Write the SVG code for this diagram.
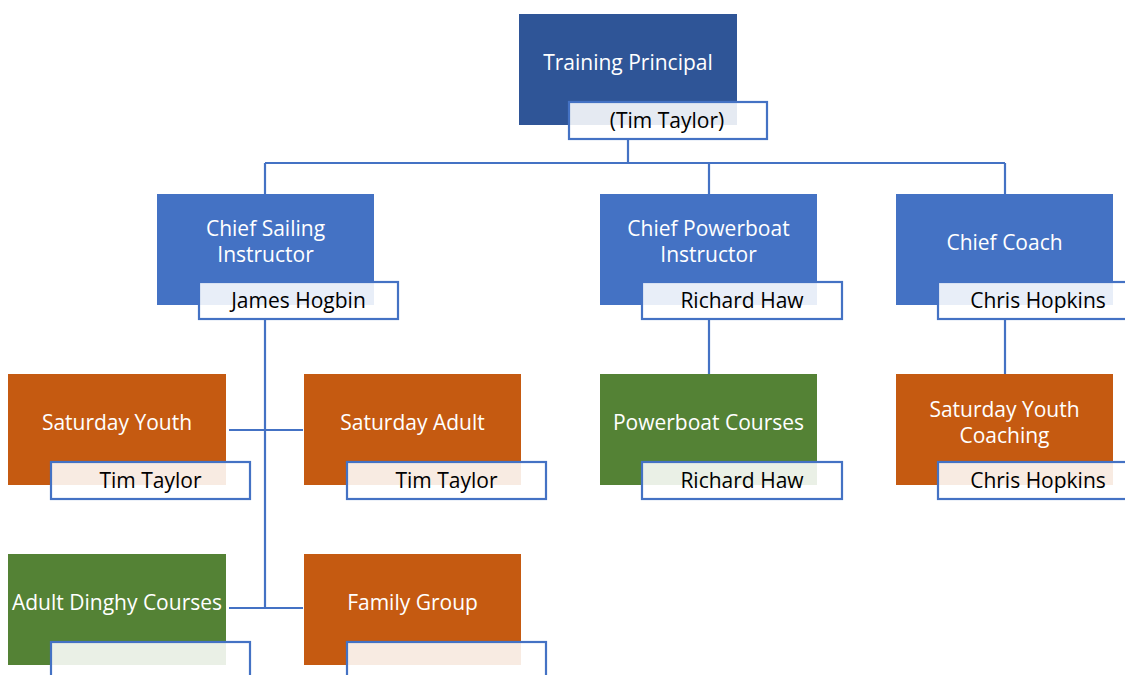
<svg xmlns="http://www.w3.org/2000/svg" width="1125" height="675" viewBox="0 0 1125 675">
<style>
.box{stroke:none}
.dark{fill:#2F5597}
.blue{fill:#4472C4}
.orange{fill:#C55A11}
.green{fill:#548235}
.lbl{fill:#ffffff;fill-opacity:0.88;stroke:#4472C4;stroke-width:2.2}
.t{font-family:"Open Sans","Liberation Sans",sans-serif;font-size:21px;fill:#ffffff;text-anchor:middle;dominant-baseline:central}
.n{font-family:"Open Sans","Liberation Sans",sans-serif;font-size:21px;fill:#000000;text-anchor:middle;dominant-baseline:central}
.c{fill:none;stroke:#4472C4;stroke-width:2.2}
</style>
<rect width="1125" height="675" fill="#ffffff"/>
<g id="connectors">
<path class="c" d="M628 139V163M265 163H1005M265 163V194M709 163V194M1005 163V194"/>
<path class="c" d="M265 319V608M229 430H303M229 608H303"/>
<path class="c" d="M709 319V374M1005 319V374"/>
</g>
<g id="training-principal">
<rect class="box dark" x="519" y="14" width="218" height="111"/>
<text class="t" x="628" y="62">Training Principal</text>
<rect class="lbl" x="569" y="102" width="198" height="37"/>
<text class="n" x="667" y="120">(Tim Taylor)</text>
</g>
<g id="chief-sailing">
<rect class="box blue" x="157" y="194" width="217" height="111"/>
<text class="t" x="265.5" y="228">Chief Sailing</text>
<text class="t" x="265.5" y="254">Instructor</text>
<rect class="lbl" x="199" y="282" width="199" height="37"/>
<text class="n" x="298.5" y="300">James Hogbin</text>
</g>
<g id="chief-powerboat">
<rect class="box blue" x="600" y="194" width="217" height="111"/>
<text class="t" x="708.5" y="228">Chief Powerboat</text>
<text class="t" x="708.5" y="254">Instructor</text>
<rect class="lbl" x="642" y="282" width="200" height="37"/>
<text class="n" x="742" y="300">Richard Haw</text>
</g>
<g id="chief-coach">
<rect class="box blue" x="896" y="194" width="217" height="111"/>
<text class="t" x="1004.5" y="242">Chief Coach</text>
<rect class="lbl" x="938" y="282" width="200" height="37"/>
<text class="n" x="1038" y="300">Chris Hopkins</text>
</g>
<g id="saturday-youth">
<rect class="box orange" x="8" y="374" width="218" height="111"/>
<text class="t" x="117" y="422">Saturday Youth</text>
<rect class="lbl" x="51" y="462" width="199" height="37"/>
<text class="n" x="150.5" y="480">Tim Taylor</text>
</g>
<g id="saturday-adult">
<rect class="box orange" x="304" y="374" width="217" height="111"/>
<text class="t" x="412.5" y="422">Saturday Adult</text>
<rect class="lbl" x="347" y="462" width="199" height="37"/>
<text class="n" x="446.5" y="480">Tim Taylor</text>
</g>
<g id="powerboat-courses">
<rect class="box green" x="600" y="374" width="217" height="111"/>
<text class="t" x="708.5" y="422">Powerboat Courses</text>
<rect class="lbl" x="642" y="462" width="200" height="37"/>
<text class="n" x="742" y="480">Richard Haw</text>
</g>
<g id="saturday-youth-coaching">
<rect class="box orange" x="896" y="374" width="217" height="111"/>
<text class="t" x="1004.5" y="409">Saturday Youth</text>
<text class="t" x="1004.5" y="435">Coaching</text>
<rect class="lbl" x="938" y="462" width="200" height="37"/>
<text class="n" x="1038" y="480">Chris Hopkins</text>
</g>
<g id="adult-dinghy-courses">
<rect class="box green" x="8" y="554" width="218" height="111"/>
<text class="t" x="117" y="602">Adult Dinghy Courses</text>
<rect class="lbl" x="51" y="642" width="199" height="37"/>
</g>
<g id="family-group">
<rect class="box orange" x="304" y="554" width="217" height="111"/>
<text class="t" x="412.5" y="602">Family Group</text>
<rect class="lbl" x="347" y="642" width="199" height="37"/>
</g>
</svg>
